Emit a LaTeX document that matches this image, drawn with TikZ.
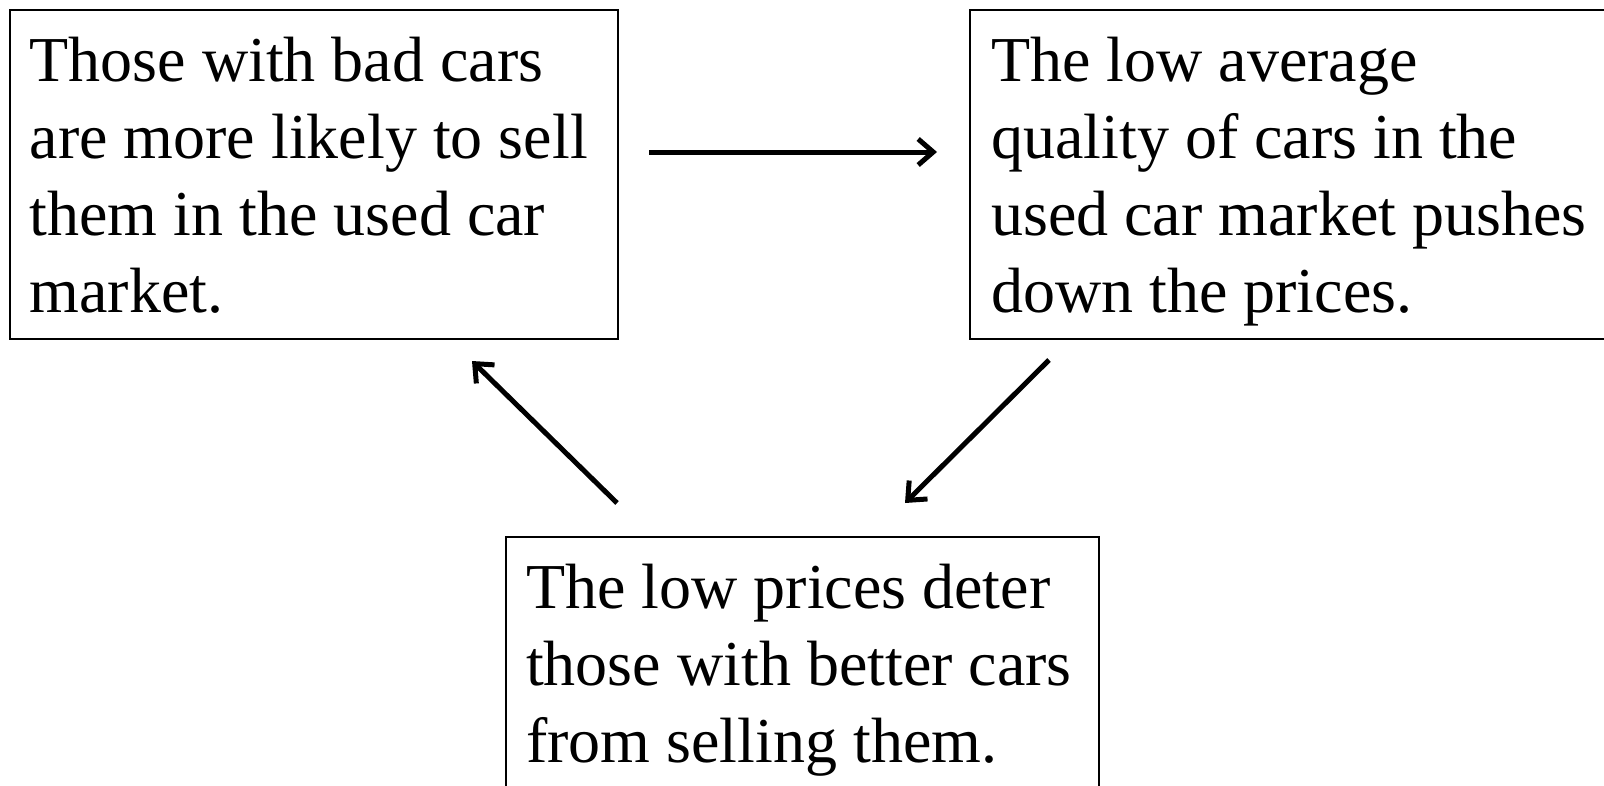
\documentclass[tikz,border=0pt]{standalone}
\usepackage{fontspec}
\setmainfont{Liberation Serif}
\usetikzlibrary{arrows.meta}
\begin{document}
\begin{tikzpicture}[x=1pt,y=-1pt,
  boxnode/.style={draw, line width=1.8pt, inner sep=0pt, anchor=north west},
  txt/.style={anchor=base west, inner sep=0pt, align=left, font=\fontsize{64}{76.7}\selectfont},
  conn/.style={line width=5pt, -{Straight Barb[length=15pt,width=26pt]}}]
\path[use as bounding box, clip] (0,0) rectangle (1604,785);
\fill[white] (0,0) rectangle (1604,785);
% boxes
\node[boxnode, minimum width=608pt, minimum height=329pt] (b1) at (9,9) {};
\node[boxnode, minimum width=660pt, minimum height=329pt] (b2) at (969,9) {};
\node[boxnode, minimum width=593pt, minimum height=280pt] (b3) at (505,536) {};
% texts (base anchor = baseline of the last line)
\node[txt] (t1) at (29.5,312) {Those with bad cars\\are more likely to sell\\them in the used car\\market.};
\node[txt] (t2) at (991,312) {The low average\\quality of cars in the\\used car market pushes\\down the prices.};
\node[txt] (t3) at (526,762) {The low prices deter\\those with better cars\\from selling them.};
% connectors
\coordinate (a1s) at (649,152);
\coordinate (a1e) at (937,152);
\coordinate (a2s) at (1049,360);
\coordinate (a2e) at (905,503);
\coordinate (a3s) at (617,503);
\coordinate (a3e) at (472,361);
\draw[conn] (a1s) -- (a1e);
\draw[conn] (a2s) -- (a2e);
\draw[conn] (a3s) -- (a3e);
\end{tikzpicture}
\end{document}
